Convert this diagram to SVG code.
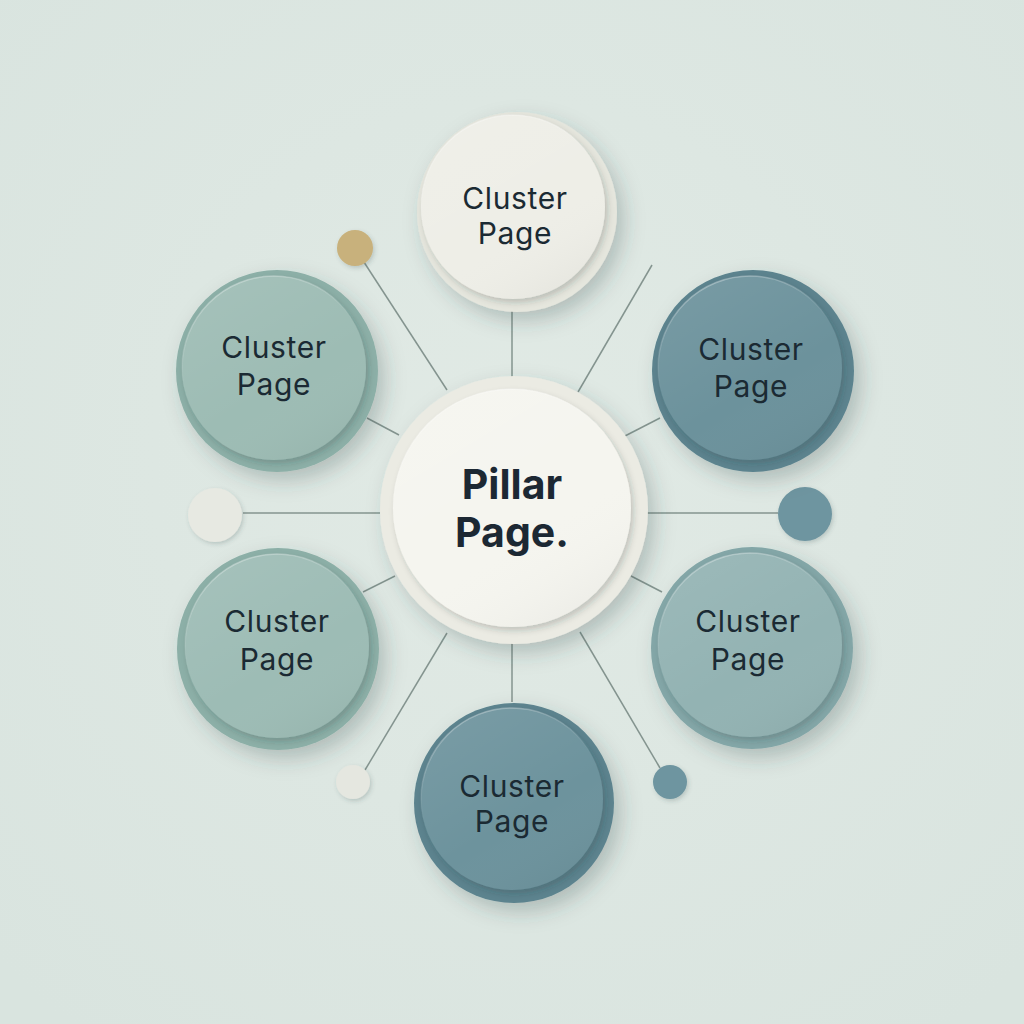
<svg xmlns="http://www.w3.org/2000/svg" width="1024" height="1024" viewBox="0 0 1024 1024">
  <defs>
    <radialGradient id="bg" cx="50%" cy="45%" r="70%">
      <stop offset="0" stop-color="#e1eae5"/>
      <stop offset="1" stop-color="#d9e4df"/>
    </radialGradient>
    <filter id="shadow" x="-30%" y="-30%" width="170%" height="170%">
      <feDropShadow dx="7" dy="9" stdDeviation="10" flood-color="#2f4a48" flood-opacity="0.26"/>
    </filter>
    <filter id="faceShadow" x="-20%" y="-20%" width="140%" height="140%">
      <feDropShadow dx="2.5" dy="3.5" stdDeviation="3" flood-color="#243a3a" flood-opacity="0.22"/>
    </filter>
    <filter id="dotShadow" x="-40%" y="-40%" width="180%" height="180%">
      <feDropShadow dx="1.5" dy="2" stdDeviation="2" flood-color="#2f4a48" flood-opacity="0.22"/>
    </filter>
    <linearGradient id="sheen" x1="0.2" y1="0" x2="0.8" y2="1">
      <stop offset="0" stop-color="#ffffff" stop-opacity="0.08"/>
      <stop offset="0.6" stop-color="#ffffff" stop-opacity="0"/>
      <stop offset="1" stop-color="#000000" stop-opacity="0.04"/>
    </linearGradient>
    <linearGradient id="rimStroke" x1="0.3" y1="0" x2="0.7" y2="1">
      <stop offset="0" stop-color="#ffffff" stop-opacity="0.35"/>
      <stop offset="0.45" stop-color="#ffffff" stop-opacity="0"/>
    </linearGradient>
  </defs>
  <style>
    .conn line { stroke: #84948f; stroke-width: 1.5; fill: none; }
    .label { font-family: Inter, "Open Sans", "Liberation Sans", sans-serif; font-size: 30px; fill: #1b2a33; text-anchor: middle; letter-spacing: 0.6px; }
    .pillar { font-family: Inter, "Open Sans", "Liberation Sans", sans-serif; font-size: 41px; font-weight: 700; fill: #1c2833; text-anchor: middle; }
    .base { filter: url(#shadow); }
    .face { filter: url(#faceShadow); }
    .rim { fill: url(#sheen); stroke: url(#rimStroke); stroke-width: 1.5; }
    .dot { filter: url(#dotShadow); }
  </style>

  <rect width="1024" height="1024" fill="url(#bg)"/>

  <g id="connectors" class="conn">
    <line x1="512" y1="303" x2="512" y2="380"/>
    <line x1="360" y1="256" x2="447" y2="390"/>
    <line x1="652" y1="265" x2="578" y2="392"/>
    <line x1="367" y1="418" x2="399" y2="435"/>
    <line x1="623" y1="437" x2="660" y2="418"/>
    <line x1="243" y1="513" x2="380" y2="513"/>
    <line x1="645" y1="513" x2="778" y2="513"/>
    <line x1="363" y1="592" x2="395" y2="576"/>
    <line x1="631" y1="576" x2="662" y2="592"/>
    <line x1="365" y1="770" x2="447" y2="633"/>
    <line x1="660" y1="768" x2="580" y2="632"/>
    <line x1="512" y1="638" x2="512" y2="702"/>
  </g>

  <g id="dot-gold"><circle class="dot" cx="355" cy="248" r="18" fill="#c8b17b"/></g>
  <g id="dot-left"><circle class="dot" cx="215" cy="515" r="27" fill="#e7e9e2"/></g>
  <g id="dot-right"><circle class="dot" cx="805" cy="514" r="27" fill="#6e95a0"/></g>
  <g id="dot-bottom-left"><circle class="dot" cx="353" cy="782" r="17" fill="#e5e7e0"/></g>
  <g id="dot-bottom-right"><circle class="dot" cx="670" cy="782" r="17" fill="#6e95a0"/></g>

  <g id="node-top">
    <circle class="base" cx="517" cy="212" r="100" fill="#e5e6dd"/>
    <circle class="face" cx="513" cy="207" r="92" fill="#eeeee7"/>
    <circle class="rim" cx="513" cy="207" r="92"/>
    <text class="label" x="515" y="209">Cluster<tspan x="515" dy="35">Page</tspan></text>
  </g>

  <g id="node-top-left">
    <circle class="base" cx="277" cy="371" r="101" fill="#8cafa7"/>
    <circle class="face" cx="274" cy="368" r="92" fill="#9dbcb4"/>
    <circle class="rim" cx="274" cy="368" r="92"/>
    <text class="label" x="274" y="358">Cluster<tspan x="274" dy="37">Page</tspan></text>
  </g>

  <g id="node-top-right">
    <circle class="base" cx="753" cy="371" r="101" fill="#5c838e"/>
    <circle class="face" cx="750" cy="368" r="92" fill="#6c929c"/>
    <circle class="rim" cx="750" cy="368" r="92"/>
    <text class="label" x="751" y="360">Cluster<tspan x="751" dy="37">Page</tspan></text>
  </g>

  <g id="node-bottom-left">
    <circle class="base" cx="278" cy="649" r="101" fill="#8cafa7"/>
    <circle class="face" cx="277" cy="646" r="92" fill="#9dbcb5"/>
    <circle class="rim" cx="277" cy="646" r="92"/>
    <text class="label" x="277" y="632">Cluster<tspan x="277" dy="38">Page</tspan></text>
  </g>

  <g id="node-bottom-right">
    <circle class="base" cx="752" cy="648" r="101" fill="#83a6a7"/>
    <circle class="face" cx="750" cy="645" r="92" fill="#93b3b3"/>
    <circle class="rim" cx="750" cy="645" r="92"/>
    <text class="label" x="748" y="632">Cluster<tspan x="748" dy="38">Page</tspan></text>
  </g>

  <g id="node-bottom">
    <circle class="base" cx="514" cy="803" r="100" fill="#5c838e"/>
    <circle class="face" cx="512" cy="799" r="91" fill="#6d939d"/>
    <circle class="rim" cx="512" cy="799" r="91"/>
    <text class="label" x="512" y="797">Cluster<tspan x="512" dy="35">Page</tspan></text>
  </g>

  <g id="node-pillar">
    <circle class="base" cx="514" cy="510" r="134" fill="#ebebe3"/>
    <circle class="face" cx="512" cy="508" r="119" fill="#f5f5ef"/>
    <circle class="rim" cx="512" cy="508" r="119"/>
    <text class="pillar" x="512" y="499">Pillar<tspan x="512" dy="48">Page.</tspan></text>
  </g>
</svg>
